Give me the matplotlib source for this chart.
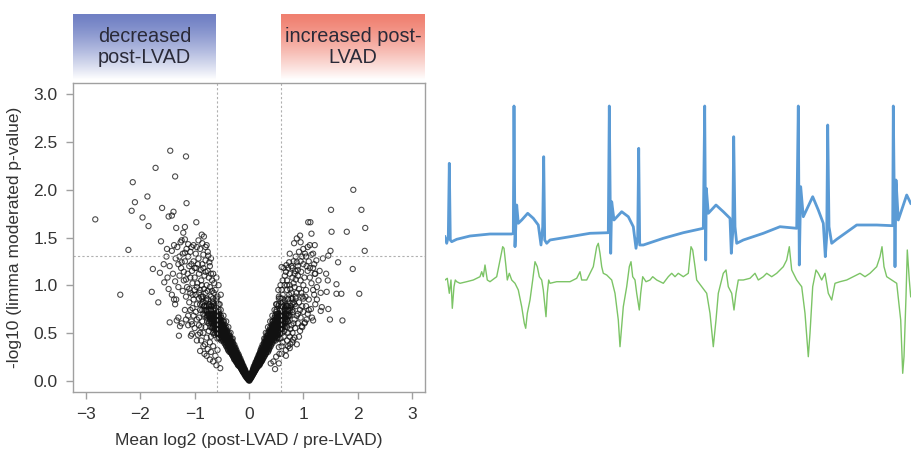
import numpy as np
import matplotlib.pyplot as plt
from matplotlib.colors import LinearSegmentedColormap

plt.rcParams['font.family'] = ['Liberation Sans', 'DejaVu Sans']

# ---- volcano plot data: (mean log2 FC, -log10 p) ----
core_levels = [0.02, 0.04, 0.06, 0.08, 0.10, 0.12, 0.14, 0.16, 0.18, 0.20, 0.22, 0.24, 0.26,
               0.28, 0.30, 0.33, 0.36, 0.39, 0.42, 0.45, 0.48, 0.51, 0.54, 0.57, 0.60, 0.64, 0.68]
left_core_x = [
    [-0.02, -0.03], [-0.04, -0.06, -0.02], [-0.05, -0.08, -0.07], [-0.07, -0.10, -0.05, -0.09],
    [-0.09, -0.12, -0.08, -0.11], [-0.10, -0.14, -0.12, -0.08], [-0.13, -0.16, -0.11, -0.15],
    [-0.14, -0.18, -0.12, -0.17, -0.20], [-0.16, -0.19, -0.14, -0.21],
    [-0.17, -0.22, -0.19, -0.15, -0.24], [-0.20, -0.24, -0.18, -0.22, -0.27],
    [-0.21, -0.25, -0.19, -0.23, -0.28], [-0.23, -0.27, -0.21, -0.25, -0.30],
    [-0.25, -0.29, -0.22, -0.27, -0.32], [-0.26, -0.31, -0.24, -0.29, -0.34, -0.36],
    [-0.28, -0.33, -0.30, -0.36, -0.39, -0.25], [-0.31, -0.35, -0.33, -0.39, -0.42, -0.28],
    [-0.33, -0.38, -0.36, -0.41, -0.45, -0.30], [-0.36, -0.40, -0.38, -0.44, -0.48, -0.33, -0.51],
    [-0.39, -0.43, -0.41, -0.47, -0.50, -0.36, -0.54], [-0.42, -0.45, -0.44, -0.49, -0.53, -0.38, -0.57],
    [-0.45, -0.48, -0.47, -0.52, -0.56, -0.41, -0.60], [-0.47, -0.51, -0.50, -0.55, -0.59, -0.44, -0.63],
    [-0.50, -0.54, -0.53, -0.58, -0.62, -0.47, -0.66], [-0.53, -0.57, -0.56, -0.61, -0.65, -0.50, -0.69],
    [-0.56, -0.60, -0.59, -0.64, -0.68, -0.53, -0.72], [-0.60, -0.64, -0.63, -0.67, -0.72, -0.57, -0.76]]
right_core_x = [
    [0.02, 0.03], [0.03, 0.05, 0.02], [0.05, 0.07, 0.04], [0.06, 0.09, 0.05, 0.08],
    [0.08, 0.11, 0.07, 0.10], [0.10, 0.13, 0.08, 0.12], [0.11, 0.15, 0.10, 0.14],
    [0.13, 0.17, 0.11, 0.15, 0.19], [0.15, 0.18, 0.13, 0.20],
    [0.16, 0.20, 0.18, 0.14, 0.23], [0.18, 0.22, 0.16, 0.20, 0.25],
    [0.19, 0.23, 0.17, 0.22, 0.27], [0.21, 0.25, 0.19, 0.24, 0.29],
    [0.23, 0.27, 0.20, 0.25, 0.31], [0.24, 0.29, 0.22, 0.27, 0.32, 0.35],
    [0.26, 0.31, 0.28, 0.34, 0.37, 0.23], [0.29, 0.33, 0.31, 0.37, 0.40, 0.26],
    [0.31, 0.36, 0.34, 0.39, 0.43, 0.28], [0.34, 0.38, 0.36, 0.42, 0.46, 0.31, 0.49],
    [0.36, 0.41, 0.39, 0.44, 0.48, 0.33, 0.52], [0.39, 0.43, 0.41, 0.47, 0.51, 0.35, 0.55],
    [0.41, 0.46, 0.44, 0.49, 0.54, 0.38, 0.58], [0.44, 0.48, 0.47, 0.52, 0.57, 0.40, 0.61],
    [0.46, 0.51, 0.49, 0.55, 0.60, 0.43, 0.64], [0.49, 0.53, 0.52, 0.58, 0.63, 0.45, 0.67],
    [0.52, 0.57, 0.55, 0.61, 0.66, 0.48, 0.70], [0.55, 0.60, 0.58, 0.64, 0.69, 0.51, 0.73]]

core_levels_b = [0.01, 0.03, 0.05, 0.07, 0.09, 0.11, 0.13, 0.15, 0.17, 0.19, 0.21, 0.23, 0.25,
                 0.27, 0.29, 0.315, 0.345, 0.375, 0.405, 0.435, 0.465, 0.495, 0.525, 0.555,
                 0.585, 0.62, 0.66, 0.70, 0.74, 0.78]
left_core_b = [
    [-0.01, 0.0], [-0.02, -0.04, -0.03], [-0.04, -0.06, -0.03, -0.05], [-0.06, -0.08, -0.04, -0.07],
    [-0.07, -0.10, -0.06, -0.09, -0.11], [-0.09, -0.12, -0.07, -0.10, -0.13],
    [-0.11, -0.14, -0.09, -0.12, -0.15], [-0.12, -0.16, -0.10, -0.14, -0.18],
    [-0.14, -0.17, -0.12, -0.16, -0.19, -0.21], [-0.15, -0.19, -0.13, -0.17, -0.21, -0.23],
    [-0.17, -0.21, -0.15, -0.19, -0.23, -0.25], [-0.19, -0.22, -0.16, -0.20, -0.25, -0.27],
    [-0.20, -0.24, -0.18, -0.22, -0.26, -0.29], [-0.22, -0.26, -0.19, -0.24, -0.28, -0.31],
    [-0.23, -0.27, -0.21, -0.25, -0.30, -0.33],
    [-0.25, -0.29, -0.23, -0.27, -0.32, -0.35, -0.38], [-0.27, -0.32, -0.25, -0.30, -0.34, -0.37, -0.40],
    [-0.30, -0.34, -0.27, -0.32, -0.37, -0.40, -0.43], [-0.32, -0.37, -0.30, -0.35, -0.39, -0.43, -0.46],
    [-0.35, -0.39, -0.32, -0.37, -0.42, -0.45, -0.49], [-0.37, -0.42, -0.35, -0.40, -0.45, -0.48, -0.52],
    [-0.40, -0.44, -0.37, -0.42, -0.47, -0.51, -0.55], [-0.43, -0.47, -0.40, -0.45, -0.50, -0.54, -0.58],
    [-0.45, -0.49, -0.42, -0.47, -0.52, -0.57, -0.61], [-0.48, -0.52, -0.45, -0.50, -0.55, -0.60, -0.64],
    [-0.51, -0.55, -0.48, -0.53, -0.58, -0.63, -0.67], [-0.54, -0.58, -0.51, -0.56, -0.62, -0.66, -0.71],
    [-0.58, -0.62, -0.55, -0.60, -0.65, -0.70, -0.75], [-0.61, -0.66, -0.70, -0.74, -0.79],
    [-0.64, -0.69, -0.74, -0.78, -0.83]]
right_core_b = [
    [0.01, 0.0], [0.02, 0.04, 0.03], [0.04, 0.05, 0.03, 0.06], [0.05, 0.07, 0.04, 0.08],
    [0.07, 0.09, 0.06, 0.08, 0.10], [0.08, 0.11, 0.07, 0.10, 0.12],
    [0.10, 0.13, 0.08, 0.11, 0.14], [0.11, 0.15, 0.09, 0.13, 0.17],
    [0.13, 0.16, 0.11, 0.15, 0.18, 0.20], [0.14, 0.18, 0.12, 0.16, 0.20, 0.22],
    [0.16, 0.20, 0.14, 0.18, 0.22, 0.24], [0.18, 0.21, 0.15, 0.19, 0.23, 0.25],
    [0.19, 0.22, 0.17, 0.21, 0.24, 0.27], [0.20, 0.24, 0.18, 0.22, 0.26, 0.29],
    [0.21, 0.25, 0.20, 0.23, 0.28, 0.31],
    [0.23, 0.27, 0.21, 0.25, 0.30, 0.33, 0.36], [0.25, 0.30, 0.23, 0.28, 0.32, 0.35, 0.38],
    [0.28, 0.32, 0.25, 0.30, 0.34, 0.37, 0.40], [0.30, 0.34, 0.28, 0.32, 0.36, 0.40, 0.43],
    [0.32, 0.36, 0.30, 0.34, 0.39, 0.42, 0.46], [0.34, 0.39, 0.32, 0.37, 0.42, 0.45, 0.48],
    [0.37, 0.41, 0.34, 0.39, 0.44, 0.47, 0.51], [0.40, 0.44, 0.37, 0.42, 0.46, 0.50, 0.54],
    [0.42, 0.46, 0.39, 0.44, 0.48, 0.53, 0.57], [0.45, 0.48, 0.42, 0.46, 0.51, 0.56, 0.60],
    [0.47, 0.51, 0.44, 0.49, 0.54, 0.59, 0.62], [0.50, 0.54, 0.47, 0.52, 0.58, 0.61, 0.66],
    [0.54, 0.58, 0.51, 0.56, 0.60, 0.65, 0.70], [0.57, 0.61, 0.65, 0.69, 0.73],
    [0.60, 0.64, 0.69, 0.72, 0.77]]

core_levels_c = [0.44, 0.50, 0.56, 0.62, 0.68, 0.74, 0.80, 0.86]
left_core_c = [
    [-0.30, -0.55, -0.58], [-0.34, -0.62, -0.66, -0.59], [-0.38, -0.67, -0.71, -0.64],
    [-0.42, -0.73, -0.77, -0.70, -0.46], [-0.47, -0.78, -0.82, -0.74, -0.52, -0.69],
    [-0.52, -0.56, -0.82, -0.86, -0.78], [-0.56, -0.60, -0.86, -0.90, -0.66, -0.72],
    [-0.60, -0.66, -0.78, -0.92, -0.86]]
right_core_c = [
    [0.28, 0.52, 0.55], [0.31, 0.57, 0.61, 0.54], [0.35, 0.62, 0.66, 0.59],
    [0.39, 0.67, 0.71, 0.64, 0.43], [0.43, 0.72, 0.76, 0.69, 0.48, 0.63],
    [0.47, 0.51, 0.76, 0.80, 0.72], [0.51, 0.55, 0.80, 0.84, 0.61, 0.67],
    [0.55, 0.61, 0.72, 0.86, 0.80]]

left_cloud = [
    (-0.62, 0.95), (-0.58, 0.88), (-0.66, 0.82), (-0.70, 0.78), (-0.75, 0.85), (-0.80, 0.92),
    (-0.85, 0.88), (-0.90, 0.95), (-0.95, 1.02), (-0.88, 1.05), (-0.92, 1.12), (-1.00, 1.08),
    (-1.05, 1.15), (-1.10, 1.20), (-1.02, 1.25), (-0.97, 1.18), (-0.82, 1.10), (-0.78, 1.00),
    (-0.72, 0.98), (-0.68, 1.05), (-0.64, 1.02), (-0.60, 1.08), (-0.76, 1.15), (-0.86, 1.22),
    (-0.93, 1.28), (-1.12, 1.30), (-1.18, 1.25), (-1.22, 1.33), (-1.15, 1.38), (-1.08, 1.35),
    (-0.98, 1.33), (-0.90, 1.38), (-1.25, 1.18), (-1.30, 1.22), (-1.35, 1.28), (-1.28, 1.10),
    (-1.20, 1.05), (-1.14, 0.98), (-1.08, 0.92), (-1.02, 0.85), (-0.96, 0.80), (-0.90, 0.74),
    (-0.84, 0.70), (-0.78, 0.66), (-0.74, 0.60), (-0.80, 0.56), (-0.86, 0.62), (-0.92, 0.66),
    (-0.98, 0.72), (-1.04, 0.76), (-1.10, 0.82), (-1.16, 0.88), (-1.22, 0.94), (-1.30, 0.98),
    (-1.36, 1.04), (-1.40, 1.12), (-1.42, 1.36), (-1.38, 1.42), (-1.32, 1.40), (-1.26, 1.45),
    (-1.18, 1.48), (-1.12, 1.43), (-1.06, 1.40), (-0.84, 0.50), (-0.78, 0.45), (-0.72, 0.40),
    (-0.88, 0.42), (-0.94, 0.48), (-1.00, 0.55), (-1.06, 0.62), (-1.12, 0.68), (-1.18, 0.74),
    (-0.66, 0.36), (-0.70, 0.30), (-0.76, 0.33), (-0.82, 0.28), (-0.62, 0.26), (-0.56, 0.22),
    (-0.58, 0.32), (-0.64, 0.48), (-0.68, 0.55), (-0.56, 0.72), (-0.54, 0.80), (-0.52, 0.90),
    (-0.56, 1.00), (-0.66, 1.12), (-0.72, 1.20), (-0.80, 1.26), (-0.84, 1.32), (-0.76, 1.35),
    (-0.70, 1.28), (-1.24, 0.60), (-1.30, 0.66), (-1.36, 0.80), (-1.42, 0.90), (-1.48, 0.96),
    (-1.50, 1.08), (-1.46, 1.20), (-1.52, 1.30), (-1.34, 0.85), (-1.05, 0.49), (-0.90, 0.31),
    (-0.81, 0.38), (-0.78, 0.26), (-0.66, 0.20), (-0.53, 0.13), (-0.60, 0.16), (-0.72, 0.22),
    (-0.60, 0.70), (-0.63, 0.76), (-0.67, 0.70), (-0.71, 0.74), (-0.74, 0.80), (-0.70, 0.88),
    (-0.65, 0.92), (-0.60, 0.84), (-0.77, 0.72), (-0.82, 0.78), (-0.79, 0.84), (-0.85, 0.82),
    (-0.88, 0.88), (-0.83, 0.96), (-0.87, 1.00), (-0.92, 0.92), (-0.96, 0.98), (-1.00, 0.95),
    (-1.04, 1.02), (-1.08, 1.08), (-1.13, 1.12), (-1.16, 1.06), (-1.06, 1.22), (-1.00, 1.18),
    (-0.94, 1.22), (-0.89, 1.16), (-0.84, 1.18), (-0.80, 1.14), (-0.74, 1.08), (-0.70, 1.12),
    (-0.62, 0.62), (-0.66, 0.64), (-0.72, 0.66), (-0.88, 0.56), (-0.92, 0.58), (-0.96, 0.64),
    (-1.02, 0.68), (-0.98, 0.90), (-1.04, 0.90), (-1.10, 0.96), (-1.20, 1.14), (-1.24, 1.24),
    (-1.18, 1.34), (-1.28, 1.30), (-1.02, 1.42), (-0.96, 1.40), (-0.86, 1.44), (-0.80, 1.40),
    (-0.90, 0.50), (-0.96, 0.42), (-0.84, 0.36), (-0.74, 0.52), (-0.70, 0.46), (-1.12, 0.58),
    (-1.16, 0.64), (-1.08, 0.74), (-0.58, 0.62), (-0.55, 0.66), (-0.68, 0.94), (-0.76, 0.94)]
right_cloud = [
    (0.50, 0.80), (0.55, 0.88), (0.60, 0.95), (0.65, 1.00), (0.70, 1.05), (0.75, 1.12),
    (0.80, 1.18), (0.85, 1.15), (0.90, 1.10), (0.95, 1.05), (1.00, 1.00), (1.05, 0.95),
    (0.98, 0.88), (0.92, 0.82), (0.86, 0.78), (0.80, 0.72), (0.74, 0.68), (0.68, 0.62),
    (0.62, 0.58), (0.56, 0.52), (0.60, 0.70), (0.66, 0.76), (0.72, 0.85), (0.78, 0.92),
    (0.84, 0.98), (0.90, 1.20), (0.95, 1.25), (1.00, 1.22), (1.05, 1.30), (1.10, 1.25),
    (1.08, 1.15), (1.12, 1.08), (1.15, 1.02), (1.18, 0.95), (1.20, 0.90), (1.25, 0.98),
    (1.28, 1.05), (1.22, 1.12), (1.18, 1.18), (1.15, 1.32), (1.20, 1.22), (1.10, 0.85),
    (1.05, 0.78), (1.00, 0.72), (0.95, 0.66), (0.90, 0.60), (0.85, 0.55), (0.80, 0.50),
    (0.75, 0.46), (0.70, 0.42), (0.78, 0.58), (0.88, 0.68), (0.98, 0.78), (1.08, 0.70),
    (1.14, 0.75), (0.72, 1.18), (0.66, 1.10), (0.62, 1.05), (0.58, 1.00), (0.54, 0.95),
    (0.78, 1.20), (0.82, 1.25), (0.86, 1.30), (0.92, 1.35), (1.00, 1.38), (0.95, 1.45),
    (0.80, 1.08), (0.75, 1.00), (0.70, 0.95), (0.62, 0.82), (0.58, 0.75), (0.65, 0.52),
    (0.72, 0.50), (0.80, 0.40), (0.62, 0.40), (0.55, 0.35), (0.68, 0.32), (0.60, 0.28),
    (0.50, 0.25), (0.45, 0.20), (0.40, 0.18), (0.55, 0.18), (0.48, 0.12), (1.30, 1.15),
    (1.25, 0.85), (1.22, 0.80), (1.32, 0.92), (1.02, 0.60), (0.94, 0.52), (1.16, 0.66),
    (0.84, 0.45), (0.88, 0.38),
    (0.48, 0.60), (0.52, 0.66), (0.56, 0.62), (0.58, 0.68), (0.62, 0.66), (0.64, 0.72),
    (0.68, 0.70), (0.70, 0.78), (0.66, 0.84), (0.62, 0.90), (0.58, 0.86), (0.54, 0.78),
    (0.50, 0.72), (0.72, 0.62), (0.76, 0.76), (0.82, 0.82), (0.78, 0.86), (0.74, 0.90),
    (0.76, 0.96), (0.70, 1.00), (0.82, 1.02), (0.86, 1.06), (0.88, 0.92), (0.92, 0.96),
    (0.96, 0.92), (1.00, 0.86), (1.04, 0.88), (1.02, 1.08), (0.96, 1.14), (0.90, 1.16),
    (0.84, 1.12), (0.68, 1.14), (0.64, 1.18), (0.74, 1.24), (0.88, 1.24), (0.98, 1.30),
    (1.06, 1.20), (1.12, 1.18), (1.08, 1.40), (0.84, 0.64), (0.90, 0.70), (0.94, 0.74),
    (0.86, 0.88), (0.82, 0.60), (0.76, 0.54), (0.70, 0.56), (0.92, 0.46), (0.98, 0.56),
    (1.06, 0.64), (1.10, 0.74), (0.54, 0.58), (0.46, 0.52), (0.50, 0.46), (0.64, 0.46),
    (0.58, 0.44), (0.76, 0.38), (0.72, 0.36), (0.60, 0.36), (0.68, 0.26), (0.56, 0.28)]

outliers = [
    (-2.83, 1.69), (-2.37, 0.90), (-2.22, 1.37), (-2.16, 1.78), (-2.14, 2.08), (-2.10, 1.87),
    (-1.96, 1.71), (-1.87, 1.93), (-1.85, 1.62), (-1.79, 0.93), (-1.77, 1.17), (-1.72, 2.23),
    (-1.67, 0.82), (-1.64, 1.13), (-1.60, 1.81), (-1.62, 1.46), (-1.56, 1.03), (-1.57, 1.22),
    (-1.51, 1.38), (-1.48, 1.72), (-1.46, 0.61), (-1.45, 2.41), (-1.42, 1.73), (-1.39, 1.77),
    (-1.38, 0.85), (-1.36, 2.14), (-1.34, 1.60), (-1.33, 0.63), (-1.29, 0.47), (-1.27, 0.57),
    (-1.24, 1.47), (-1.21, 1.55), (-1.18, 1.61), (-1.16, 2.35), (-1.15, 1.86), (-1.07, 0.47),
    (-1.05, 0.59), (-0.97, 1.66), (-0.93, 1.47), (-0.87, 1.53), (-0.83, 1.51), (-0.78, 1.42),
    (-0.75, 1.31), (-0.73, 1.24),
    (1.92, 2.00), (2.07, 1.79), (2.14, 1.60), (2.13, 1.36), (2.03, 0.91), (1.91, 1.17),
    (1.80, 1.56), (1.70, 0.91), (1.72, 0.63), (1.61, 0.91), (1.64, 1.24), (1.61, 1.01),
    (1.51, 1.79), (1.52, 1.56), (1.50, 1.36), (1.49, 0.64), (1.46, 0.75), (1.43, 0.93),
    (1.42, 1.12), (1.45, 1.05), (1.46, 1.31), (1.34, 0.77), (1.32, 0.73), (1.36, 1.28),
    (1.13, 1.66), (1.09, 1.66), (1.15, 1.54), (1.12, 1.42), (1.21, 1.42), (1.24, 1.26),
    (1.21, 1.12), (1.18, 1.33), (1.03, 1.33), (0.94, 1.52), (0.88, 1.49), (0.83, 1.44),
    (0.75, 1.33), (0.69, 1.21), (0.60, 1.19), (1.18, 0.63), (1.03, 0.61), (0.97, 0.57),
    (0.81, 0.43), (0.75, 0.34), (0.00, 0.00), (0.01, 0.00), (-0.01, 0.01)]

fc_cut = 0.585      # log2(1.5)
p_cut = 1.301       # -log10(0.05)

# ---- ECG traces (time, amplitude in arbitrary units) ----
blue_t = [0, 1.7, 3.3, 4.3, 5.3, 6.7, 11.7, 25, 45, 66.7, 68.3, 69, 70, 71.7, 73.3, 76.7, 82.7,
          88.3, 93.3, 96, 97.7, 98.7, 99.7, 101.7, 105, 125, 145, 163.3, 164.3, 165.7, 166.7,
          169, 176.7, 183.3, 188.3, 191, 192.7, 193.7, 194.7, 198.3, 218.3, 238.3, 258.3,
          259.7, 260.7, 261.3, 263.3, 271, 278.3, 285, 286.3, 287.7, 288.7, 290, 291.7, 298.3,
          318.3, 335, 351.7, 353.3, 354.3, 355.7, 358.3, 367.7, 373.3, 378.3, 380.3, 381.7,
          382.7, 384, 386.7, 391.7, 411.7, 431.7, 447.7, 448.3, 450, 451, 453.3, 461.7, 465.7]
blue_v = [153.3, 146.7, 153.3, 226.7, 150, 148.3, 150.7, 154, 156, 156, 156.7, 284, 143.3, 185,
          166.7, 170, 176.7, 171.7, 165, 145, 163.3, 233.3, 150, 146.7, 150, 153.3, 156.7, 157.3,
          284, 136.7, 188.3, 170, 178.3, 173.3, 163.3, 141.7, 153.3, 241.7, 145, 145, 151.7,
          157.3, 161.7, 284, 130, 201.7, 176.7, 185, 178.3, 171.7, 136.7, 156.7, 253.3, 163.3,
          146.7, 150, 156.7, 163.3, 161.7, 284, 125, 203.3, 173.3, 193.3, 180, 166.7, 133.3,
          153.3, 265, 163.3, 146.7, 150.7, 165, 165, 164.3, 284, 123.3, 210, 170, 195, 186.7]

green_t = [0, 2.3, 4.3, 6, 7.3, 9, 10.3, 11.7, 15, 21.7, 28.3, 35, 36.7, 38.3, 40, 42.3, 45,
           51.7, 55, 57.7, 59, 61, 62.3, 64.3, 66.7, 70, 73.3, 76.7, 79.3, 80.7, 82.3, 85, 87.7,
           90, 92.3, 94.3, 96.7, 98.3, 101, 102.3, 103.7, 105, 111.7, 125, 131.7, 135, 136.7,
           141.7, 148.3, 151.7, 153.3, 155, 156.7, 158.3, 161.7, 166.7, 170, 173.3, 175, 176.7,
           178.3, 181.7, 184.3, 186, 187.7, 190, 191.7, 194.3, 195.7, 197.7, 201, 205, 207.7,
           211.7, 218.3, 223.3, 226.7, 230, 233.3, 238.3, 243.3, 246, 247.7, 250, 251.7, 256.7,
           261.7, 265, 268.3, 271, 273.3, 278.3, 281, 283.3, 286.7, 289, 291, 293.3, 298.3, 305,
           310, 313.3, 318.3, 321.7, 326.7, 331.7, 338.3, 341.7, 344.3, 346.7, 351.7, 356.7, 360,
           363.3, 365, 367.7, 371, 373.3, 376.7, 380, 383.3, 386.7, 390, 395, 401.7, 408.3, 415,
           420, 425, 431.7, 435, 437, 439, 441.7, 446.7, 451.7, 455.7, 457.7, 459, 461, 462.3,
           464.3, 465.7]
green_v = [110, 111.7, 96.7, 110, 81.7, 103.3, 110, 108.3, 106.7, 108.3, 110, 113.3, 118.3,
           113.3, 125, 110, 108.3, 113.3, 130, 143.3, 141.7, 123.3, 110, 116.7, 110, 106.7, 100,
           83.3, 66.7, 61.7, 76.7, 90, 110, 128.3, 123.3, 113.3, 110, 100, 73.3, 96.7, 110,
           106.7, 108.3, 108.3, 111.7, 118.3, 110, 110, 123.3, 143.3, 146.7, 136.7, 123.3, 116.7,
           115, 110, 96.7, 70, 43.3, 63.3, 83.3, 103.3, 123.3, 128.3, 113.3, 110, 96.7, 80, 96.7,
           113.3, 108.3, 110, 113.3, 110, 106.7, 113.3, 116.7, 113.3, 116.7, 113.3, 116.7, 143.3,
           140, 123.3, 110, 103.3, 96.7, 76.7, 43.3, 70, 96.7, 116.7, 120, 103.3, 96.7, 80, 96.7,
           110, 110, 111.7, 116.7, 110, 113.3, 116.7, 113.3, 116.7, 123.3, 130, 143.3, 120, 110,
           103.3, 76.7, 33.3, 56.7, 103.3, 120, 116.7, 110, 116.7, 96.7, 90, 106.7, 108.3, 110,
           113.3, 116.7, 113.3, 116.7, 123.3, 133.3, 143.3, 123.3, 113.3, 110, 106.7, 70, 16.7,
           33.3, 93.3, 140, 110, 93.3]

# collect all volcano points
xs, ys = [], []
for levels, lefts, rights in [(core_levels, left_core_x, right_core_x),
                              (core_levels_b, left_core_b, right_core_b),
                              (core_levels_c, left_core_c, right_core_c)]:
    for lvl, lx, rx in zip(levels, lefts, rights):
        for v in lx + rx:
            xs.append(v)
            ys.append(lvl)
for px, py in left_cloud + right_cloud + outliers:
    xs.append(px)
    ys.append(py)

fig = plt.figure(figsize=(9.18, 4.5), dpi=100)

# volcano
ax = fig.add_axes([73 / 918, 58 / 450, 352 / 918, 309 / 450])
ax.scatter(xs, ys, s=14, facecolors='none', edgecolors='#111111', linewidths=0.8, alpha=0.75)
ax.axvline(-fc_cut, color='#b0b0b0', lw=0.8, ls=(0, (2, 2)))
ax.axvline(fc_cut, color='#b0b0b0', lw=0.8, ls=(0, (2, 2)))
ax.axhline(p_cut, color='#b0b0b0', lw=0.8, ls=(0, (2, 2)))
ax.set_xlim(-3.24, 3.24)
ax.set_ylim(-0.12, 3.12)
ax.set_xticks([-3, -2, -1, 0, 1, 2, 3])
ax.set_yticks([0.0, 0.5, 1.0, 1.5, 2.0, 2.5, 3.0])
ax.set_yticklabels(['0.0', '0.5', '1.0', '1.5', '2.0', '2.5', '3.0'])
for sp in ax.spines.values():
    sp.set_color('#a0a0a0')
    sp.set_linewidth(1.0)
ax.tick_params(colors='#a0a0a0', labelcolor='#333333', labelsize=12.5, length=5, width=1.0, pad=6)
ax.set_xlabel('Mean log2 (post-LVAD / pre-LVAD)', fontsize=12.5, color='#333333', labelpad=8)
ax.set_ylabel('-log10 (limma moderated p-value)', fontsize=12.5, color='#333333', labelpad=8)

# header boxes with gradient
grad = np.linspace(0, 1, 100).reshape(-1, 1)
boxes = [([73, 216], '#7080c4', 'decreased\npost-LVAD'),
         ([281, 425], '#f08070', 'increased post-\nLVAD')]
for (x0, x1), col, label in boxes:
    bax = fig.add_axes([x0 / 918, 370 / 450, (x1 - x0) / 918, 66 / 450])
    cmap = LinearSegmentedColormap.from_list('g', [col, '#ffffff'])
    bax.imshow(grad ** 1.3, aspect='auto', cmap=cmap, extent=[0, 1, 0, 1], origin='upper')
    bax.axis('off')
    bax.text(0.5, 0.50, label, ha='center', va='center', fontsize=14.3, color='#2a2a38',
             linespacing=1.15, transform=bax.transAxes)

# ECG traces
eax = fig.add_axes([445 / 918, 60 / 450, 466 / 918, 300 / 450])
eax.plot(blue_t, blue_v, color='#5b9bd5', lw=2.0, solid_joinstyle='round')
eax.plot(green_t, green_v, color='#7cc466', lw=1.0, solid_joinstyle='round')
eax.set_xlim(0, 466)
eax.set_ylim(0, 300)
eax.axis('off')

fig.savefig('out.png', dpi=100)
